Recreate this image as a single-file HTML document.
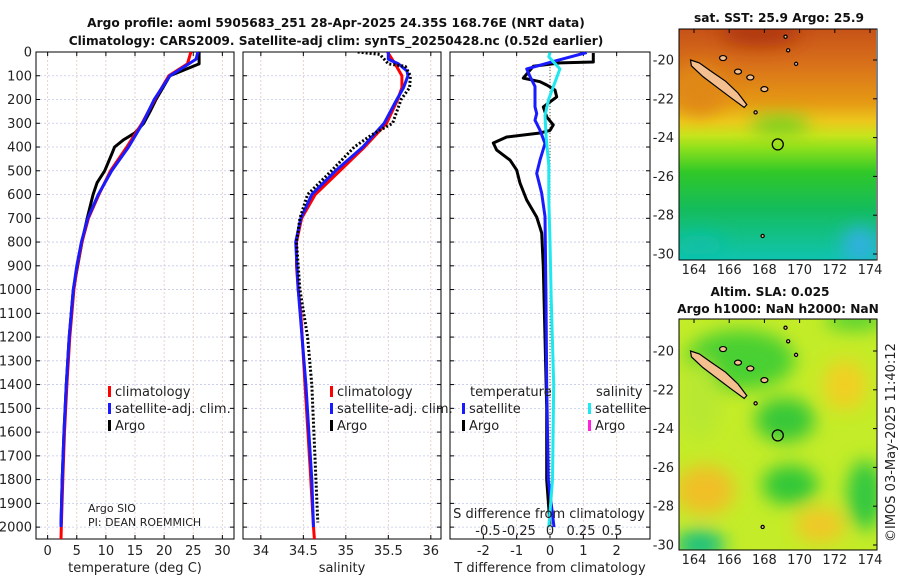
<!DOCTYPE html>
<html><head><meta charset="utf-8">
<style>
html,body{margin:0;padding:0;background:#fff;}
svg{display:block;font-family:"DejaVu Sans","Liberation Sans",sans-serif;}
.t{font-size:13px;fill:#222;}
.b{font-weight:bold;font-size:12.2px;fill:#111;}
</style></head>
<body>
<svg id="fig" width="900" height="580" viewBox="0 0 900 580">
<defs>
<clipPath id="c1"><rect x="36" y="52" width="198" height="487"/></clipPath>
<clipPath id="c2"><rect x="243" y="52" width="198" height="487"/></clipPath>
<clipPath id="c3"><rect x="450" y="52" width="200" height="487"/></clipPath>
<clipPath id="m1"><rect x="679" y="29" width="197" height="231"/></clipPath>
<clipPath id="m2"><rect x="679" y="319" width="198" height="231"/></clipPath>
<filter id="bl" x="-50%" y="-50%" width="200%" height="200%"><feGaussianBlur stdDeviation="9"/></filter>
<linearGradient id="sst" x1="0" y1="0" x2="0" y2="1">
<stop offset="0" stop-color="#c65218"/><stop offset="0.15" stop-color="#d8701a"/>
<stop offset="0.32" stop-color="#e69a14"/><stop offset="0.4" stop-color="#ecc81c"/>
<stop offset="0.46" stop-color="#c8e41c"/><stop offset="0.52" stop-color="#8ae01c"/>
<stop offset="0.62" stop-color="#30c828"/><stop offset="0.78" stop-color="#14bc5c"/>
<stop offset="1" stop-color="#10c4b0"/>
</linearGradient>
</defs>
<g>
<text class="b" x="336" y="27" text-anchor="middle">Argo profile: aoml 5905683_251 28-Apr-2025 24.35S 168.76E (NRT data)</text>
<text class="b" x="336" y="45" text-anchor="middle">Climatology: CARS2009. Satellite-adj clim: synTS_20250428.nc (0.52d earlier)</text>
<text class="b" x="779" y="22" text-anchor="middle">sat. SST: 25.9 Argo: 25.9</text>
<text class="b" x="770" y="296" text-anchor="middle">Altim. SLA: 0.025</text>
<text class="b" x="778" y="313" text-anchor="middle">Argo h1000: NaN h2000: NaN</text>
<text class="t" x="0" y="0" transform="translate(895,542) rotate(-90)">©IMOS 03-May-2025 11:40:12</text>
</g>
<g id="plots"></g>
<g id="maps"></g>
</svg>
<script>
// ---- profile data ----
const depthTClim = [0,50,100,150,200,300,400,500,600,700,800,900,1000,1200,1400,1600,1800,2000,2050];
const tempClim   = [24.6,24.0,20.8,19.6,18.4,16.2,13.6,10.8,8.8,7.0,5.9,5.1,4.5,3.8,3.3,2.9,2.6,2.35,2.3];
const depthTSat  = [0,30,60,100,200,300,400,500,600,700,800,900,1000,1200,1400,1600,1800,2000];
const tempSat    = [25.8,25.5,23.6,21.0,18.3,16.3,13.9,11.0,8.7,6.9,5.8,5.0,4.4,3.7,3.2,2.8,2.5,2.3];
const depthTArgo = [0,50,70,100,200,250,300,340,370,400,430,500,550,600,700,800,1000,1200,1400,1600,1800,1990];
const tempArgo   = [26.0,26.0,24.0,21.0,18.6,17.6,16.5,15.0,13.0,11.5,11.0,9.8,8.5,7.8,6.8,5.9,4.4,3.7,3.2,2.8,2.5,2.3];
const depthSClim = [0,50,100,150,200,300,400,500,600,700,800,900,1000,1100,1400,1750,2000,2050];
const salClim    = [35.49,35.58,35.66,35.66,35.61,35.48,35.22,34.93,34.64,34.48,34.42,34.42,34.44,34.47,34.52,34.58,34.62,34.63];
const depthSSat  = [0,30,50,80,100,150,200,300,400,500,600,700,800,1000,1400,1800,2000];
const salSat     = [35.5,35.5,35.62,35.72,35.73,35.68,35.6,35.45,35.2,34.88,34.6,34.47,34.41,34.44,34.53,34.6,34.62];
const depthSArgo = [0,10,30,50,60,100,150,200,300,350,400,500,600,700,800,1000,1200,1400,1980];
const salArgo    = [35.14,35.4,35.45,35.5,35.7,35.76,35.75,35.65,35.55,35.3,35.1,34.83,34.55,34.46,34.42,34.46,34.55,34.6,34.67];
const depthDTArgo = [4,42,46,60,76,110,125,139,160,189,210,231,273,307,330,341,358,383,413,455,497,552,623,695,762,905,1200,1500,1800,1990];
const dTArgo      = [1.3,1.3,0.3,-0.5,-0.6,-0.8,-0.3,-0.1,0.15,0.2,0.0,-0.2,-0.1,0.1,0.0,-0.3,-1.3,-1.7,-1.6,-1.2,-1.0,-0.9,-0.7,-0.4,-0.25,-0.2,-0.15,-0.1,-0.1,0.0];
const depthDTSat  = [2,36,71,103,145,231,259,287,329,385,455,511,595,693,1044,1400,1800,2000];
const dTSat       = [1.1,0.2,-0.7,-0.6,-0.45,-0.45,-0.4,-0.45,-0.3,-0.15,-0.3,-0.4,-0.25,-0.15,-0.12,-0.1,-0.05,0.12];
const depthDSSat  = [2,20,71,127,197,267,366,478,619,800,1038,1400,1800,2000];
const dSSat       = [0.0,-0.01,0.08,0.04,-0.01,-0.04,-0.03,-0.01,-0.01,0.0,0.01,0.03,0.02,-0.01];
// ---- tick labels ----
const depthTicks = [0,100,200,300,400,500,600,700,800,900,1000,1100,1200,1300,1400,1500,1600,1700,1800,1900,2000];
const tempTicks = [0,5,10,15,20,25,30];
const salTicks = [34,34.5,35,35.5,36];
const dTTicks = [-2,-1,0,1,2];
const dSTicks = [-0.5,-0.25,0,0.25,0.5];
const dSTickLabels = ['-0.5','-0.25','0','0.25','0.5'];
const lonTicks = [164,166,168,170,172,174];
const latTicks = [-20,-22,-24,-26,-28,-30];

const NS='http://www.w3.org/2000/svg';
const plots=document.getElementById('plots');
function mk(tag,parent,attrs){const e=document.createElementNS(NS,tag);for(const k in attrs)e.setAttribute(k,attrs[k]);parent.appendChild(e);return e;}
function scale(d0,d1,r0,r1){return v=>r0+(v-d0)*(r1-r0)/(d1-d0);}
const yD = scale(0,2050,52,539);

const panels=[
 {x0:36,x1:234,dom:[-2,32],ticks:tempTicks,labels:tempTicks.map(String),title:'temperature (deg C)',clip:'c1',name:'temperature-panel'},
 {x0:243,x1:441,dom:[33.79,36.12],ticks:salTicks,labels:salTicks.map(String),title:'salinity',clip:'c2',name:'salinity-panel'},
 {x0:450,x1:650,dom:[-3,3],ticks:dTTicks,labels:dTTicks.map(String),title:'T difference from climatology',clip:'c3',name:'difference-panel'}
];
panels.forEach((p,i)=>{
 const g=mk('g',plots,{});
 
 
 p.xs=scale(p.dom[0],p.dom[1],p.x0,p.x1);
 depthTicks.forEach(d=>{const y=yD(d);
  const l=mk('line',g,{x1:p.x0,x2:p.x1,y1:y,y2:y,stroke:'#c4c8ea','stroke-width':0.8,'stroke-dasharray':'2,2'});
  
  
  mk('line',g,{x1:p.x0,x2:p.x0+4,y1:y,y2:y,stroke:'#000'});
  mk('line',g,{x1:p.x1-4,x2:p.x1,y1:y,y2:y,stroke:'#000'});
  if(i===0){const t=mk('text',g,{x:32,y:y+4.5,'text-anchor':'end',class:'t'});t.textContent=d;
   
   }
 });
 p.ticks.forEach((v,k)=>{const x=p.xs(v);
  const l=mk('line',g,{x1:x,x2:x,y1:52,y2:539,stroke:'#e0c8c0','stroke-width':0.8,'stroke-dasharray':'2,2'});
  
  
  mk('line',g,{x1:x,x2:x,y1:539,y2:535,stroke:'#000'});
  mk('line',g,{x1:x,x2:x,y1:52,y2:56,stroke:'#000'});
  const t=mk('text',g,{x:x,y:555,'text-anchor':'middle',class:'t'});t.textContent=p.labels[k];
  
  
 });
 const r=mk('rect',g,{x:p.x0,y:52,width:p.x1-p.x0,height:487,fill:'none',stroke:'#000','stroke-width':1});
 
 
 const tt=mk('text',g,{x:(p.x0+p.x1)/2,y:572,'text-anchor':'middle',class:'t'});tt.textContent=p.title;
 
 
});
function line(pi,xs,depths,vals,color,w,dash,name){
 const p=panels[pi];
 const pts=depths.map((d,k)=>xs(vals[k]).toFixed(1)+','+yD(d).toFixed(1)).join(' ');
 const a={points:pts,fill:'none',stroke:color,'stroke-width':w,'stroke-linejoin':'round','clip-path':'url(#'+p.clip+')'};
 if(dash)a['stroke-dasharray']=dash;
 const e=mk('polyline',plots,a);
 
 
}
const P=panels;
line(0,P[0].xs,depthTArgo,tempArgo,'#000',3,null,'temp-argo-line');
line(0,P[0].xs,depthTClim,tempClim,'#f00',3,null,'temp-climatology-line');
line(0,P[0].xs,depthTSat,tempSat,'#1a1aff',3,null,'temp-satellite-line');
line(1,P[1].xs,depthSClim,salClim,'#f00',3,null,'sal-climatology-line');
line(1,P[1].xs,depthSSat,salSat,'#1a1aff',3,null,'sal-satellite-line');
line(1,P[1].xs,depthSArgo,salArgo,'#000',3,'2,2','sal-argo-line');
const zl=mk('line',plots,{x1:P[2].xs(0),x2:P[2].xs(0),y1:52,y2:539,stroke:'#464','stroke-width':1,'stroke-dasharray':'1,2'});


const sxs=scale(-0.806,0.806,450,650);
line(2,P[2].xs,depthDTArgo,dTArgo,'#000',3,null,'dt-argo-line');
line(2,P[2].xs,depthDTSat,dTSat,'#1a1aff',3,null,'dt-satellite-line');
line(2,sxs,depthDSSat,dSSat,'#20e8f0',3,null,'ds-satellite-line');
dSTicks.forEach((v,k)=>{const t=mk('text',plots,{x:sxs(v),y:535,'text-anchor':'middle',class:'t'});t.textContent=dSTickLabels[k];
 
 });
const st=mk('text',plots,{x:549,y:518,'text-anchor':'middle',class:'t'});st.textContent='S difference from climatology';


function leg(x,y,color,label,name){
 const g=mk('g',plots,{});
 
 
 mk('rect',g,{x:x,y:y-10,width:3,height:11,fill:color});
 if(label){const t=mk('text',g,{x:x+7,y:y,class:'t'});t.textContent=label;}
}
leg(108,396,'#f00','climatology','legend-temp-climatology');
leg(108,413,'#1a1aff','satellite-adj. clim.','legend-temp-satellite');
leg(108,430,'#000','Argo','legend-temp-argo');
leg(330,396,'#f00','climatology','legend-sal-climatology');
leg(330,413,'#1a1aff','satellite-adj. clim.','legend-sal-satellite');
leg(330,430,'#000','Argo','legend-sal-argo');
const lt=mk('text',plots,{x:470,y:396,class:'t'});lt.textContent='temperature';


const ls=mk('text',plots,{x:596,y:396,class:'t'});ls.textContent='salinity';


leg(462,413,'#1a1aff','satellite','legend-dt-satellite');
leg(462,430,'#000','Argo','legend-dt-argo');
leg(588,413,'#20e8f0','satellite','legend-ds-satellite');
leg(588,430,'#ff20e0','Argo','legend-ds-argo');
const a1=mk('text',plots,{x:88,y:512,style:'font-size:11px;fill:#222'});a1.textContent='Argo SIO';


const a2=mk('text',plots,{x:88,y:526,style:'font-size:11px;fill:#222'});a2.textContent='PI: DEAN ROEMMICH';



// ---- maps ----
const maps=document.getElementById('maps');
const argoLon=168.76, argoLat=-24.35;
const ncLon=[163.8,164.3,165.0,165.8,166.5,167.0,166.85,166.1,165.3,164.5,163.85];
const ncLat=[-20.0,-20.15,-20.6,-21.1,-21.7,-22.3,-22.45,-21.95,-21.4,-20.85,-20.3];
const isLon=[165.65,166.5,167.2,168.0,169.2,169.35,169.8,167.5,167.9];
const isLat=[-19.9,-20.6,-20.9,-21.5,-18.8,-19.5,-20.2,-22.7,-29.07];
function drawMap(y0,clip,name,bg){
 const X=scale(164,174,694,870), Y=scale(-20,-30,y0+(y0===29?31:32),y0+(y0===29?225:226));
 const g=mk('g',maps,{});
 
 
 const c=mk('g',g,{'clip-path':'url(#'+clip+')'});
 bg(c);
 const nc=mk('polygon',c,{points:ncLon.map((l,k)=>X(l).toFixed(1)+','+Y(ncLat[k]).toFixed(1)).join(' '),fill:'#f5c090',stroke:'#000','stroke-width':1.2});
 
 
 isLon.forEach((l,k)=>{const e=mk('ellipse',c,{cx:X(l),cy:Y(isLat[k]),rx:k<4?3.5:1.6,ry:k<4?2.5:1.6,fill:'#f5c090',stroke:'#000','stroke-width':1.2});
  
  });
 const ac=mk('circle',c,{cx:X(argoLon),cy:Y(argoLat),r:5.5,fill:'none',stroke:'#000','stroke-width':1.3});
 
 
 const fr=mk('rect',g,{x:679,y:y0,width:198,height:231,fill:'none',stroke:'#000','stroke-width':1});
 
 
 latTicks.forEach(v=>{const y=Y(v);mk('line',g,{x1:877,x2:873,y1:y,y2:y,stroke:'#000'});
  const t=mk('text',g,{x:674,y:y+4.5,'text-anchor':'end',class:'t'});t.textContent=v;
  
  });
 lonTicks.forEach(v=>{const x=X(v);mk('line',g,{x1:x,x2:x,y1:y0,y2:y0+4,stroke:'#000'});
  const t=mk('text',g,{x:x,y:y0+245,'text-anchor':'middle',class:'t'});t.textContent=v;
  
  });
}
drawMap(29,'m1','sst-map',c=>{
 mk('rect',c,{x:679,y:29,width:198,height:231,fill:'url(#sst)'});
 const f=mk('g',c,{filter:'url(#bl)'});
 mk('ellipse',f,{cx:760,cy:32,rx:40,ry:14,fill:'#b03810'});
 mk('ellipse',f,{cx:700,cy:90,rx:25,ry:25,fill:'#e08818'});
 mk('ellipse',f,{cx:780,cy:125,rx:30,ry:8,fill:'#60d020'});
 mk('ellipse',f,{cx:860,cy:245,rx:18,ry:18,fill:'#30b0e0'});
 mk('ellipse',f,{cx:700,cy:245,rx:25,ry:10,fill:'#10c0a8'});
});
drawMap(319,'m2','sla-map',c=>{
 mk('rect',c,{x:679,y:319,width:198,height:231,fill:'#c4ec28'});
 const f=mk('g',c,{filter:'url(#bl)'});
 mk('ellipse',f,{cx:740,cy:360,rx:55,ry:30,fill:'#48d030'});
 mk('ellipse',f,{cx:785,cy:420,rx:30,ry:22,fill:'#38c838'});
 mk('ellipse',f,{cx:845,cy:385,rx:22,ry:25,fill:'#f0d020'});
 mk('ellipse',f,{cx:700,cy:400,rx:20,ry:40,fill:'#b8e830'});
 mk('ellipse',f,{cx:705,cy:490,rx:30,ry:25,fill:'#f0c028'});
 mk('ellipse',f,{cx:790,cy:485,rx:28,ry:20,fill:'#30c838'});
 mk('ellipse',f,{cx:865,cy:495,rx:18,ry:35,fill:'#30c840'});
 mk('ellipse',f,{cx:820,cy:525,rx:25,ry:18,fill:'#f0c828'});
 mk('ellipse',f,{cx:700,cy:545,rx:25,ry:15,fill:'#18c080'});
 mk('ellipse',f,{cx:855,cy:320,rx:30,ry:10,fill:'#50d030'});
});
</script>
</body></html>
